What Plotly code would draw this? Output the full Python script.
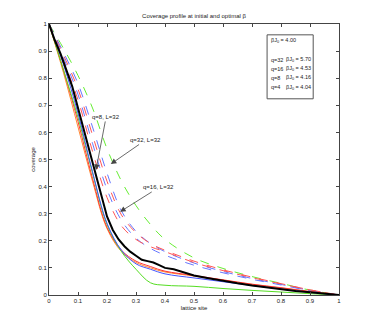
import plotly.graph_objects as go

site = [0, 0.05, 0.1, 0.15, 0.2, 0.25, 0.3, 0.35, 0.4, 0.5, 0.6, 0.7, 0.8, 0.9, 1.0]

# optimal beta (solid)
cov_q32_opt = [1, 0.83, 0.655, 0.45, 0.26, 0.16, 0.095, 0.045, 0.036, 0.032, 0.024, 0.017, 0.011, 0.005, 0]
cov_q16_opt = [1, 0.85, 0.67, 0.455, 0.265, 0.165, 0.115, 0.095, 0.078, 0.063, 0.049, 0.035, 0.022, 0.010, 0]
cov_q8_opt = [1, 0.83, 0.64, 0.43, 0.25, 0.165, 0.125, 0.105, 0.088, 0.072, 0.056, 0.040, 0.027, 0.013, 0]
cov_q4_opt = [1, 0.82, 0.62, 0.42, 0.245, 0.16, 0.12, 0.10, 0.085, 0.07, 0.055, 0.039, 0.026, 0.012, 0]

# initial beta (dashed)
cov_q32_init = [1, 0.91, 0.81, 0.69, 0.54, 0.42, 0.33, 0.26, 0.205, 0.137, 0.098, 0.068, 0.043, 0.018, 0]
cov_q16_init_b = [1, 0.895, 0.78, 0.62, 0.45, 0.31, 0.235, 0.19, 0.16, 0.118, 0.087, 0.061, 0.039, 0.017, 0]
cov_q8_init_b = [1, 0.885, 0.76, 0.59, 0.42, 0.295, 0.23, 0.19, 0.165, 0.125, 0.093, 0.066, 0.042, 0.019, 0]
cov_q16_init_a = [1, 0.875, 0.74, 0.56, 0.39, 0.275, 0.21, 0.172, 0.147, 0.11, 0.082, 0.058, 0.037, 0.016, 0]
cov_q8_init_a = [1, 0.865, 0.72, 0.53, 0.36, 0.255, 0.205, 0.178, 0.16, 0.12, 0.09, 0.064, 0.041, 0.019, 0]

# simulation (black, noisy)
sim_site = [0, 0.02, 0.04, 0.06, 0.08, 0.1, 0.12, 0.14, 0.16, 0.18, 0.2, 0.22, 0.24, 0.26, 0.28, 0.3,
            0.32, 0.34, 0.36, 0.38, 0.4, 0.43, 0.46, 0.5, 0.55, 0.6, 0.65, 0.7, 0.75, 0.8, 0.85, 0.9, 0.95, 1.0]
sim_cov = [1, 0.94, 0.89, 0.83, 0.77, 0.69, 0.61, 0.53, 0.44, 0.36, 0.29, 0.24, 0.205, 0.18, 0.16, 0.145,
           0.13, 0.125, 0.12, 0.11, 0.10, 0.095, 0.085, 0.072, 0.062, 0.052, 0.043, 0.035, 0.028, 0.022, 0.015, 0.010, 0.005, 0]

ticks = [0, 0.1, 0.2, 0.3, 0.4, 0.5, 0.6, 0.7, 0.8, 0.9, 1]
tick_text = ['0', '0.1', '0.2', '0.3', '0.4', '0.5', '0.6', '0.7', '0.8', '0.9', '1']

legend_q = ['q=32', 'q=16', 'q=8', 'q=4']
legend_bj = ['5.70', '4.53', '4.16', '4.04']
bj_initial = '4.00'

fig = go.Figure()

dashed = [(cov_q32_init, '#66ee33'), (cov_q16_init_b, '#6677ff'), (cov_q8_init_b, '#ff5555'),
          (cov_q16_init_a, '#6677ff'), (cov_q8_init_a, '#ff5555')]
for ys, col in dashed:
    fig.add_scatter(x=site, y=ys, mode='lines', line=dict(color=col, width=1, dash='dash'),
                    line_shape='spline')

solid = [(cov_q4_opt, '#ff8833'), (cov_q8_opt, '#ff3333'), (cov_q32_opt, '#55dd22'), (cov_q16_opt, '#4455ff')]
for ys, col in solid:
    fig.add_scatter(x=site, y=ys, mode='lines', line=dict(color=col, width=1), line_shape='spline')

fig.add_scatter(x=sim_site, y=sim_cov, mode='lines', line=dict(color='black', width=2))

txt_col = '#222222'

arrow_notes = [
    ('q=8, L=32', 0.162, 0.461, 0.197, 0.657),
    ('q=32, L=32', 0.213, 0.483, 0.333, 0.572),
    ('q=16, L=32', 0.245, 0.307, 0.379, 0.397),
]
for txt, x, y, ax, ay in arrow_notes:
    fig.add_annotation(x=x, y=y, ax=ax, ay=ay, xref='x', yref='y', axref='x', ayref='y',
                       text=txt, showarrow=True, arrowhead=2, arrowsize=1.4, arrowwidth=0.8,
                       arrowcolor='#444444', font=dict(size=6, color=txt_col))

# legend box drawn by hand, like the matlab text box
fig.add_shape(type='rect', x0=0.752, x1=0.911, y0=0.724, y1=0.960, xref='x', yref='y',
              line=dict(color='#555555', width=1), fillcolor='white', layer='below')
fig.add_annotation(x=0.757, y=0.938, xref='x', yref='y', xanchor='left', showarrow=False,
                   text='βJ<sub>0</sub> = ' + bj_initial, font=dict(size=5.5, color=txt_col))
for i, (q, bj) in enumerate(zip(legend_q, legend_bj)):
    yy = 0.868 - i * 0.0335
    fig.add_annotation(x=0.757, y=yy, xref='x', yref='y', xanchor='left', showarrow=False,
                       text=q, font=dict(size=5.5, color=txt_col))
    fig.add_annotation(x=0.81, y=yy, xref='x', yref='y', xanchor='left', showarrow=False,
                       text='βJ<sub>0</sub> = ' + bj, font=dict(size=5.5, color=txt_col))

axis_style = dict(range=[0, 1], tickvals=ticks, ticktext=tick_text, showgrid=False, zeroline=False,
                  ticks='inside', ticklen=3, tickcolor='#444444', mirror='ticks', showline=True,
                  linecolor='#444444', linewidth=1, tickfont=dict(size=6, color=txt_col))

# the page body adds 8px, so margins are shifted to land the plot where the reference has it
fig.update_layout(
    width=374, height=332,
    margin=dict(l=41, r=43, t=16, b=45),
    paper_bgcolor='white', plot_bgcolor='white',
    showlegend=False,
    font=dict(family='Liberation Sans'),
    title=dict(text='Coverage profile at initial and optimal β', x=0.5, xref='paper',
               y=1 - 8 / 332, yanchor='middle', font=dict(size=6, color=txt_col)),
    xaxis=dict(axis_style, title=dict(text='lattice site', font=dict(size=6, color=txt_col), standoff=2)),
    yaxis=dict(axis_style, title=dict(text='coverage', font=dict(size=6, color=txt_col), standoff=2)),
)

fig.write_html("out.html")
